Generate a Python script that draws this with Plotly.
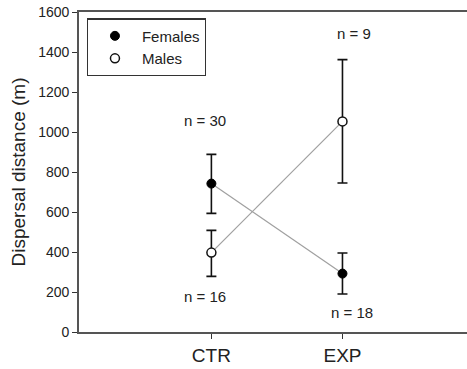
import plotly.graph_objects as go

categories = ["CTR", "EXP"]
females_mean = [742, 292]
females_err_plus = [146, 103]
females_err_minus = [149, 102]
males_mean = [397, 1053]
males_err_plus = [111, 309]
males_err_minus = [119, 308]
n_labels = ["n = 30", "n = 16", "n = 9", "n = 18"]
n_label_x = ["CTR", "CTR", "EXP", "EXP"]
n_label_y = [1060, 178, 1493, 100]
n_label_shift = [-6, -6, 12, 10]

FONT = "Liberation Sans, Arial, sans-serif"
TXT = "#222222"

fig = go.Figure()

# connecting lines
fig.add_trace(go.Scatter(x=categories, y=females_mean, mode="lines",
                         line=dict(color="#a0a0a0", width=1.2), showlegend=False, hoverinfo="skip"))
fig.add_trace(go.Scatter(x=categories, y=males_mean, mode="lines",
                         line=dict(color="#a0a0a0", width=1.2), showlegend=False, hoverinfo="skip"))

fig.add_trace(go.Scatter(
    x=categories, y=females_mean, mode="markers", name="Females",
    marker=dict(symbol="circle", size=9, color="black", line=dict(color="black", width=1)),
    error_y=dict(type="data", array=females_err_plus, arrayminus=females_err_minus,
                 color="#111111", thickness=1.6, width=5),
))
fig.add_trace(go.Scatter(
    x=categories, y=males_mean, mode="markers", name="Males",
    marker=dict(symbol="circle", size=9, color="white", line=dict(color="#111111", width=1.5)),
    error_y=dict(type="data", array=males_err_plus, arrayminus=males_err_minus,
                 color="#111111", thickness=1.6, width=5),
))

for txt, xx, yy, sh in zip(n_labels, n_label_x, n_label_y, n_label_shift):
    fig.add_annotation(x=xx, y=yy, text=txt, showarrow=False, xshift=sh,
                       font=dict(family=FONT, size=15, color=TXT))

fig.update_layout(
    width=467, height=369,
    margin=dict(l=79, r=0, t=12, b=37),
    paper_bgcolor="white", plot_bgcolor="white",
    font=dict(family=FONT, color=TXT),
    showlegend=True,
    legend=dict(x=0.02, y=0.98, xanchor="left", yanchor="top",
                bordercolor="#333333", borderwidth=1.2, bgcolor="white",
                font=dict(family=FONT, size=15, color=TXT),
                indentation=0, tracegroupgap=0, itemwidth=44),
    xaxis=dict(type="category", categoryorder="array", categoryarray=categories,
               range=[-1.01, 1.95], showgrid=False, zeroline=False,
               showline=True, linecolor="#555555", linewidth=1.6, mirror=True,
               ticks="outside", ticklen=5, tickwidth=1.4, tickcolor="#333333",
               tickfont=dict(family=FONT, size=19, color=TXT)),
    yaxis=dict(range=[0, 1600], tickvals=[0, 200, 400, 600, 800, 1000, 1200, 1400, 1600],
               showgrid=False, zeroline=False,
               showline=True, linecolor="#555555", linewidth=1.6,
               ticks="outside", ticklen=5, tickwidth=1.4, tickcolor="#333333",
               tickfont=dict(family=FONT, size=14, color=TXT),
               title=dict(text="Dispersal distance (m)", font=dict(family=FONT, size=19, color=TXT),
                          standoff=8)),
)

fig.write_html("out.html")
